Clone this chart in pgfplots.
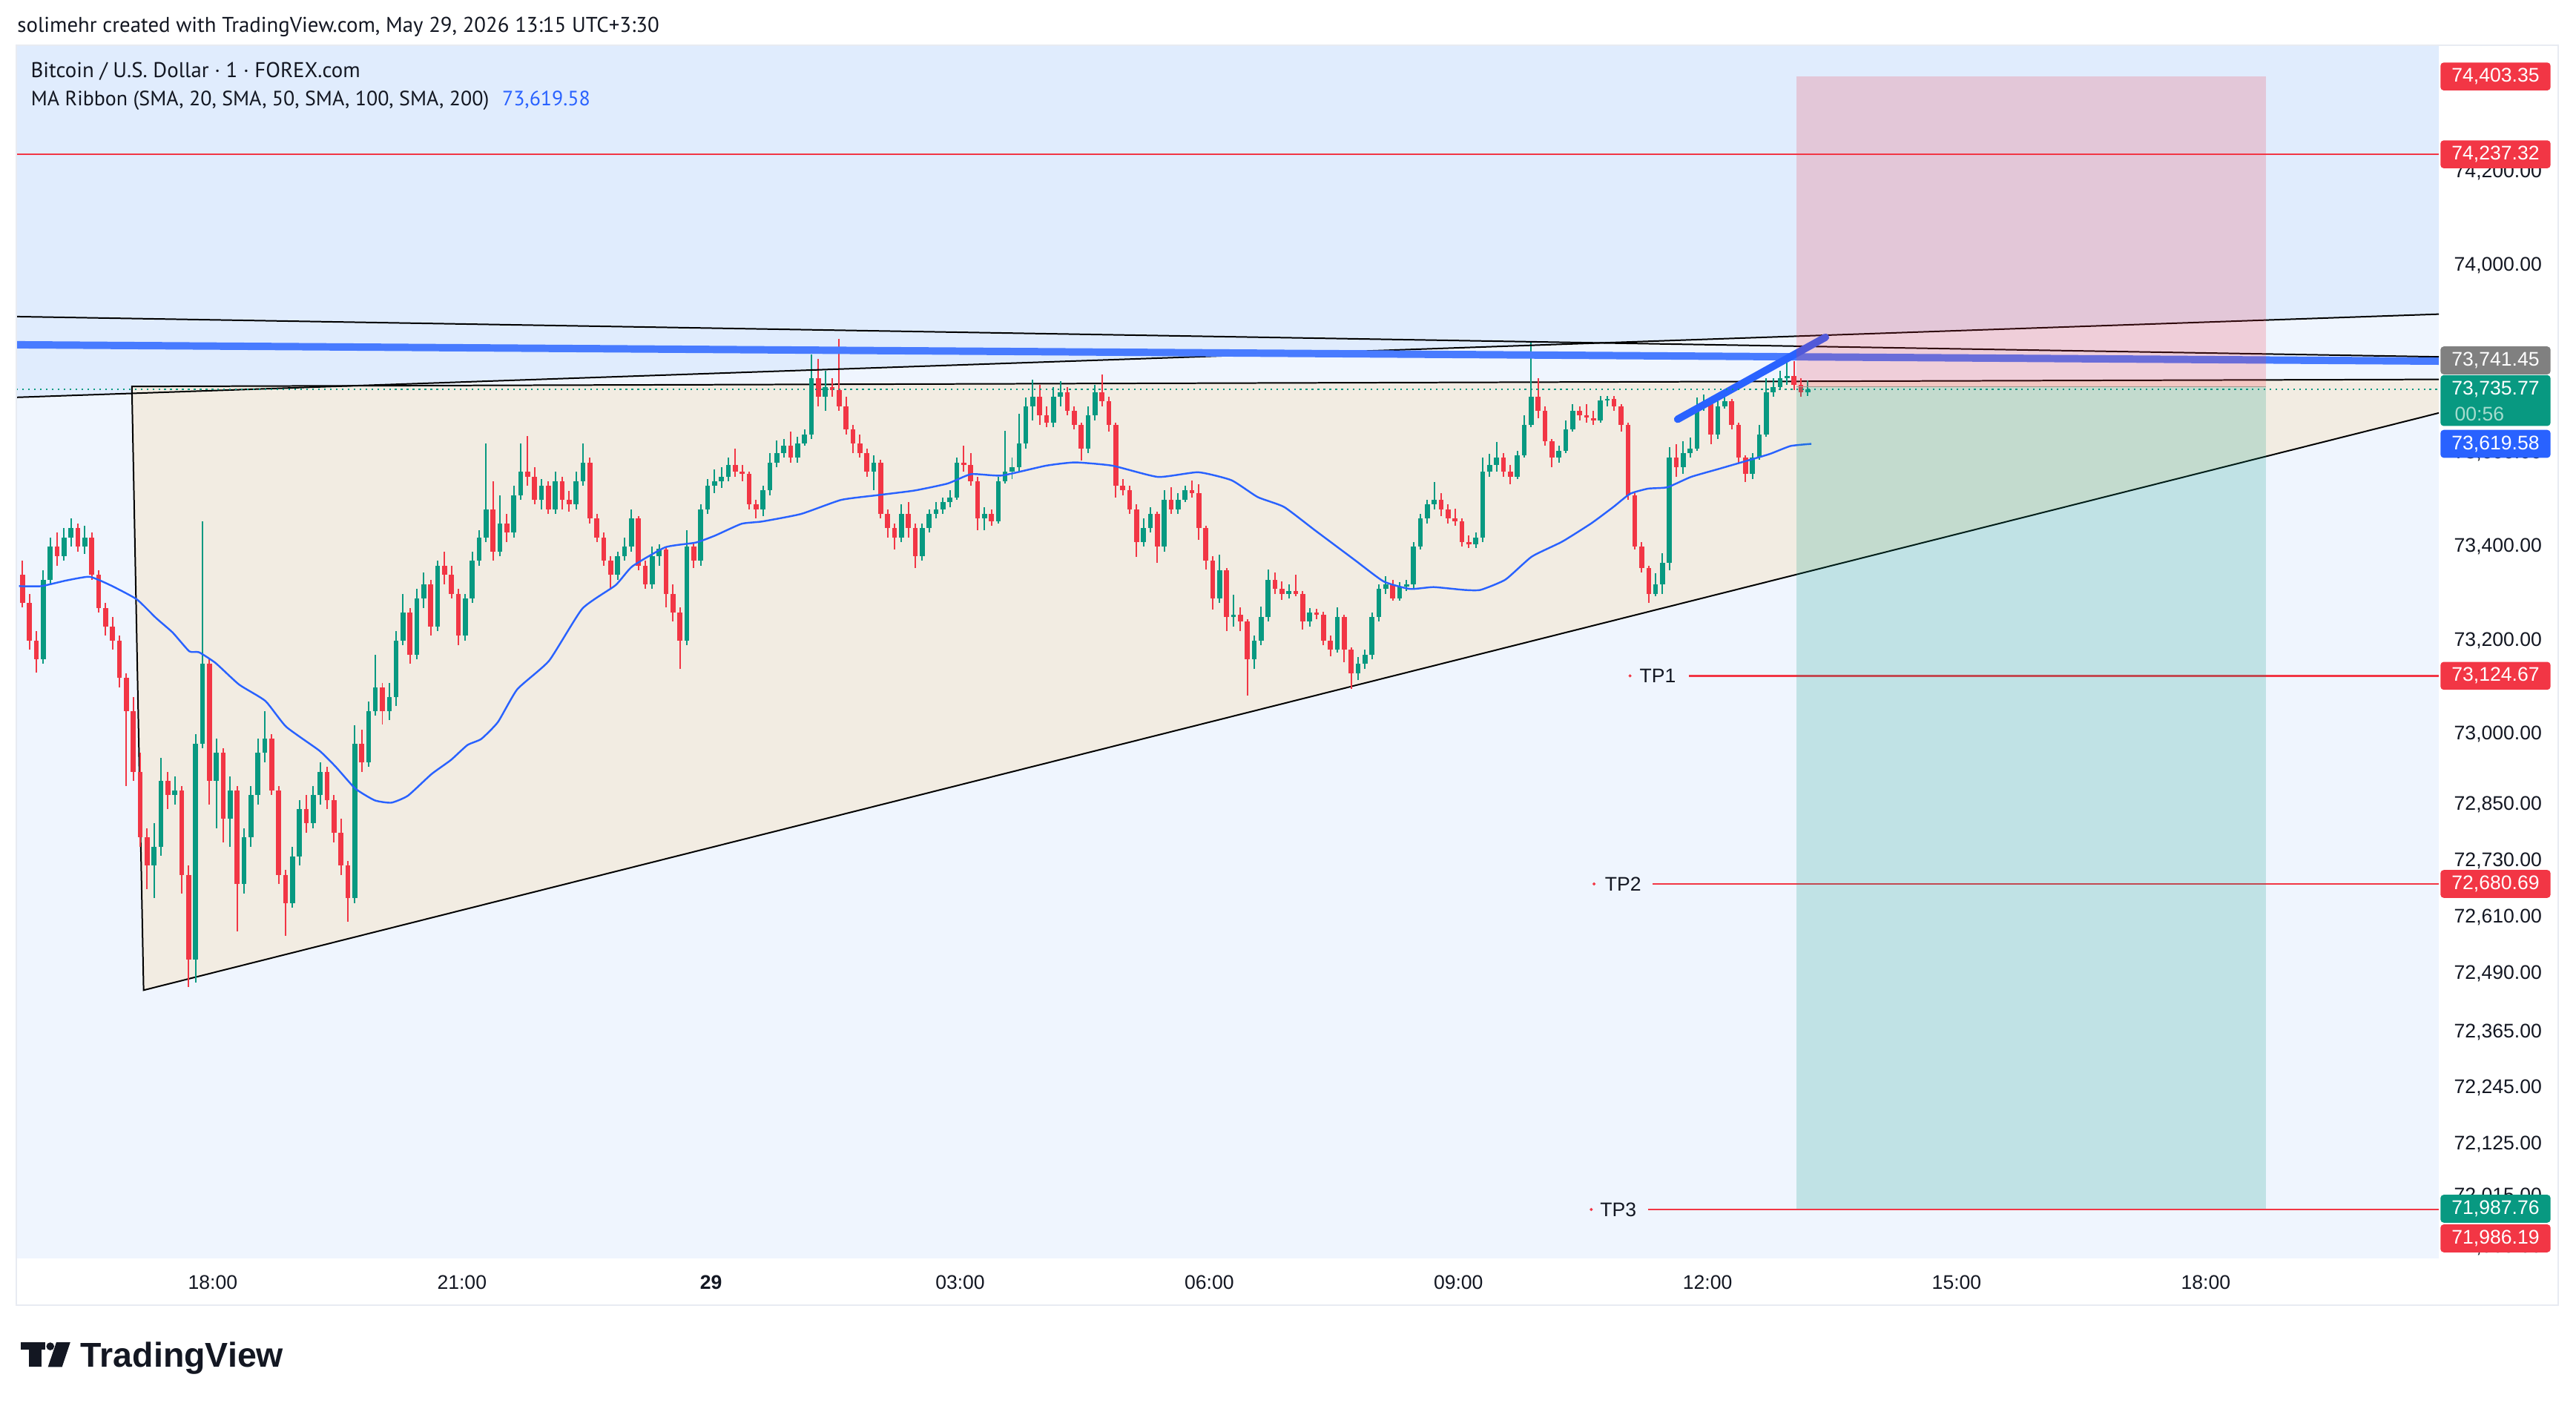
\documentclass[border=0pt]{standalone}
\usepackage{fontspec}
\setmainfont{PT Sans}
\newfontfamily\lib{Liberation Sans}
\usepackage{pgfplots}
\usepackage{pgfplotstable}
\pgfplotsset{compat=1.18}
\definecolor{tvup}{HTML}{089981}
\definecolor{tvdn}{HTML}{F23645}
\definecolor{tvblue}{HTML}{2962FF}
\definecolor{blueline}{RGB}{72,123,255}
\definecolor{bglight}{HTML}{EFF5FE}
\definecolor{bgdark}{HTML}{E0ECFD}
\definecolor{beige}{HTML}{F2ECE2}
\definecolor{tvtext}{HTML}{131722}
\definecolor{frame}{RGB}{232,235,242}
\definecolor{tvgray}{RGB}{128,128,128}
\definecolor{timetxt}{RGB}{165,220,206}

\pgfplotstableread{
t o h l c
-485 73160 73350 73150 73330
-480 73330 73420 73320 73400
-470 73380 73440 73370 73420
-465 73420 73460 73400 73440
-455 73400 73445 73385 73420
-405 72720 72810 72650 72760
-400 72760 72950 72740 72900
-390 72870 72910 72850 72880
-375 72520 73000 72470 72980
-370 72980 73455 72970 73150
-360 72900 72990 72800 72960
-350 72820 72910 72760 72880
-340 72680 72800 72660 72780
-335 72780 72890 72760 72870
-330 72870 72990 72850 72960
-325 72960 73050 72940 72990
-305 72640 72760 72630 72740
-300 72740 72860 72720 72840
-290 72810 72890 72800 72870
-285 72870 72940 72850 72920
-260 72650 73020 72640 72980
-250 72940 73070 72930 73050
-245 73050 73170 73040 73100
-235 73050 73110 73030 73080
-230 73080 73220 73060 73200
-225 73200 73300 73190 73260
-215 73170 73310 73160 73290
-210 73290 73345 73270 73320
-200 73230 73370 73220 73360
-180 73210 73300 73200 73290
-175 73290 73390 73280 73370
-170 73370 73435 73360 73420
-165 73420 73620 73410 73480
-155 73390 73510 73380 73450
-145 73430 73530 73420 73510
-140 73510 73620 73500 73560
-125 73500 73545 73480 73530
-115 73480 73560 73470 73540
-100 73490 73560 73480 73540
-95 73540 73620 73530 73580
-70 73340 73390 73330 73380
-65 73380 73420 73370 73400
-60 73400 73480 73390 73460
-45 73320 73400 73310 73380
-40 73380 73405 73360 73395
-20 73200 73435 73190 73400
-10 73370 73490 73360 73480
-5 73480 73545 73470 73530
0 73530 73565 73515 73540
5 73540 73570 73525 73550
10 73550 73590 73540 73575
35 73480 73530 73465 73520
40 73520 73600 73510 73580
45 73580 73626 73570 73600
50 73600 73630 73590 73615
60 73590 73635 73580 73620
65 73620 73650 73615 73640
70 73640 73810 73630 73760
80 73720 73775 73690 73740
115 73560 73595 73520 73580
135 73420 73490 73410 73470
150 73380 73450 73370 73440
155 73440 73480 73430 73470
160 73470 73495 73460 73480
165 73480 73505 73470 73495
170 73495 73520 73485 73505
175 73505 73590 73500 73580
195 73460 73485 73436 73470
205 73455 73550 73450 73540
210 73540 73647 73535 73560
215 73560 73590 73545 73570
220 73570 73683 73560 73620
225 73620 73718 73610 73700
230 73700 73757 73670 73720
245 73665 73740 73655 73720
250 73720 73753 73700 73730
270 73610 73700 73600 73680
275 73680 73745 73670 73730
310 73410 73460 73400 73440
315 73440 73485 73430 73470
325 73400 73520 73390 73500
335 73480 73515 73470 73500
340 73500 73530 73495 73520
365 73290 73383 73280 73350
375 73250 73298 73230 73255
390 73160 73210 73140 73200
395 73200 73273 73190 73250
400 73250 73351 73240 73330
415 73300 73320 73290 73305
430 73240 73270 73230 73260
450 73180 73270 73175 73250
465 73130 73165 73115 73150
470 73150 73180 73140 73170
475 73170 73260 73160 73250
480 73250 73320 73240 73310
485 73310 73337 73300 73320
495 73290 73325 73285 73315
500 73315 73330 73305 73320
505 73320 73410 73310 73400
510 73400 73470 73395 73460
515 73460 73500 73450 73490
520 73490 73538 73480 73500
550 73405 73430 73397 73420
555 73420 73591 73410 73560
560 73560 73598 73550 73575
565 73575 73623 73560 73590
580 73550 73605 73545 73595
585 73595 73680 73590 73660
590 73660 73835 73655 73720
610 73590 73615 73580 73605
615 73605 73670 73600 73650
620 73650 73704 73645 73690
640 73670 73722 73665 73712
645 73712 73722 73700 73715
680 73300 73344 73295 73320
685 73320 73386 73300 73365
690 73365 73612 73350 73590
700 73570 73625 73556 73600
705 73600 73633 73590 73610
710 73610 73718 73605 73700
715 73700 73725 73690 73705
725 73640 73715 73630 73700
730 73700 73736 73695 73710
750 73555 73600 73545 73590
755 73590 73660 73585 73640
760 73640 73760 73635 73730
765 73730 73760 73720 73740
770 73740 73775 73735 73760
775 73760 73799 73745 73765
790 73730 73755 73722 73735.77
}\upcandles

\pgfplotstableread{
t o h l c
-500 73340 73370 73270 73280
-495 73280 73300 73180 73200
-490 73200 73220 73132 73160
-475 73400 73430 73360 73380
-460 73440 73450 73390 73400
-450 73420 73430 73330 73340
-445 73340 73350 73260 73270
-440 73270 73280 73210 73230
-435 73230 73250 73180 73200
-430 73200 73210 73100 73120
-425 73120 73130 72890 73050
-420 73050 73080 72900 72920
-415 72920 72960 72760 72780
-410 72780 72800 72670 72720
-395 72900 72920 72840 72870
-385 72880 72890 72660 72700
-380 72700 72720 72460 72520
-365 73150 73160 72850 72900
-355 72960 72970 72770 72820
-345 72880 72890 72580 72680
-320 72990 73000 72870 72880
-315 72880 72890 72680 72700
-310 72700 72710 72570 72640
-295 72840 72870 72790 72810
-280 72920 72930 72840 72860
-275 72860 72870 72770 72790
-270 72790 72820 72700 72720
-265 72720 72730 72600 72650
-255 72980 73010 72920 72940
-240 73100 73110 73020 73050
-220 73260 73270 73150 73170
-205 73320 73330 73210 73230
-195 73360 73390 73320 73340
-190 73340 73360 73290 73300
-185 73300 73310 73190 73210
-160 73480 73540 73370 73390
-150 73450 73470 73410 73430
-135 73560 73636 73530 73550
-130 73550 73570 73490 73500
-120 73530 73540 73470 73480
-110 73540 73550 73480 73500
-105 73500 73520 73475 73490
-90 73580 73590 73450 73460
-85 73460 73470 73410 73420
-80 73420 73430 73360 73370
-75 73370 73380 73310 73340
-55 73460 73465 73350 73360
-50 73360 73370 73310 73320
-35 73395 73400 73270 73300
-30 73300 73320 73240 73260
-25 73260 73270 73140 73200
-15 73400 73410 73355 73370
15 73575 73610 73550 73560
20 73560 73575 73540 73555
25 73555 73560 73480 73490
30 73490 73500 73460 73480
55 73615 73646 73580 73590
75 73760 73800 73700 73720
85 73740 73760 73720 73735
90 73735 73843 73690 73700
95 73700 73720 73640 73650
100 73650 73660 73600 73620
105 73620 73640 73590 73600
110 73600 73610 73550 73560
120 73580 73585 73460 73470
125 73470 73480 73420 73440
130 73440 73450 73394 73420
140 73470 73495 73420 73440
145 73440 73450 73354 73380
180 73580 73616 73560 73575
185 73575 73600 73530 73540
190 73540 73550 73436 73460
200 73470 73480 73445 73455
235 73720 73746 73660 73680
240 73680 73700 73655 73665
255 73730 73740 73680 73690
260 73690 73700 73650 73660
265 73660 73665 73584 73610
280 73730 73768 73700 73710
285 73710 73720 73645 73660
290 73660 73665 73505 73530
295 73530 73545 73510 73520
300 73520 73530 73470 73480
305 73480 73490 73379 73410
320 73470 73475 73365 73400
330 73500 73527 73470 73480
345 73520 73542 73505 73515
350 73515 73534 73414 73440
355 73440 73445 73351 73370
360 73370 73380 73266 73290
370 73350 73355 73220 73250
380 73255 73270 73220 73240
385 73240 73245 73082 73160
405 73330 73345 73300 73310
410 73310 73326 73287 73300
420 73305 73340 73294 73300
425 73300 73305 73224 73240
435 73260 73268 73245 73255
440 73255 73262 73190 73200
445 73200 73210 73167 73180
455 73250 73255 73153 73180
460 73180 73185 73097 73130
490 73320 73330 73285 73290
525 73500 73515 73465 73480
530 73480 73490 73450 73460
535 73460 73481 73445 73455
540 73455 73460 73400 73410
545 73410 73425 73397 73405
570 73590 73600 73550 73560
575 73560 73575 73534 73550
595 73720 73760 73675 73690
600 73690 73700 73615 73625
605 73625 73630 73570 73590
625 73690 73700 73670 73680
630 73680 73704 73665 73675
635 73675 73690 73660 73670
650 73715 73722 73690 73700
655 73700 73705 73645 73660
660 73660 73665 73500 73510
665 73510 73515 73395 73400
670 73400 73410 73345 73355
675 73355 73360 73280 73300
695 73590 73619 73550 73570
720 73705 73710 73619 73640
735 73710 73715 73650 73660
740 73660 73665 73580 73590
745 73590 73595 73538 73555
780 73765 73796 73735 73745
785 73745 73760 73720 73730
}\dncandles

\tikzset{
  pbox/.style={minimum width=67pt, minimum height=17pt, inner sep=0pt, rounded corners=2pt, text=white, font=\lib\fontsize{12}{14}\selectfont},
  tplab/.style={font=\lib\fontsize{12}{14}\selectfont, text=tvtext, inner sep=0pt}
}
\pgfplotsset{
  candle/.style={only marks, mark=*, mark size=0pt, mark options={draw=none, fill=none, opacity=0},
    error bars/.cd, y dir=both, y explicit, error mark=none, error bar style={#1}}
}

\begin{document}
\begin{tikzpicture}[x=1pt,y=1pt]
\useasboundingbox (0,0) rectangle (1568,856);
\fill[white] (0,0) rectangle (1568,856);
\begin{axis}[
  at={(10pt,90pt)}, anchor=south west,
  scale only axis, width=1474.5pt, height=738.5pt,
  xmin=-501.9, xmax=1248.4,
  ymin=71882.3, ymax=74470.2,
  axis background/.style={fill=bglight},
  axis line style={draw=none},
  major tick length=0pt, minor tick length=0pt,
  tick style={draw=none},
  scaled y ticks=false,
  xtick={-360,-180,0,180,360,540,720,900,1080},
  xticklabels={18:00,21:00,\textbf{29},03:00,06:00,09:00,12:00,15:00,18:00},
  xticklabel style={font=\lib\fontsize{12}{14}\selectfont, text=tvtext, anchor=center, yshift=-14.6pt},
  ytick={74200,74000,73800,73600,73400,73200,73000,72850,72730,72610,72490,72365,72245,72125,72015,71905},
  yticklabels={{74,200.00},{74,000.00},{73,800.00},{73,600.00},{73,400.00},{73,200.00},{73,000.00},{72,850.00},{72,730.00},{72,610.00},{72,490.00},{72,365.00},{72,245.00},{72,125.00},{72,015.00},{71,905.00}},
  yticklabel pos=right,
  yticklabel style={font=\lib\fontsize{12}{14}\selectfont, text=tvtext, anchor=center, xshift=36pt},
  clip mode=individual,
]
% darker band above the rising line
\addplot[fill=bgdark, draw=none] coordinates {(-501.9,73718.8) (1248.4,73896.3) (1248.4,74600) (-501.9,74600)} -- cycle;
% triangle
\addplot[fill=beige, draw=black, line width=0.9pt] coordinates {(-418.5,73742) (-410,72454) (1346,73758)} -- cycle;
% candles: wicks
\addplot[candle={tvup, line width=0.9pt}]
  table[x expr={\thisrow{t}+2.5}, y expr={0.5*(\thisrow{h}+\thisrow{l})}, y error expr={0.5*(\thisrow{h}-\thisrow{l})}] {\upcandles};
\addplot[candle={tvdn, line width=0.9pt}]
  table[x expr={\thisrow{t}+2.5}, y expr={0.5*(\thisrow{h}+\thisrow{l})}, y error expr={0.5*(\thisrow{h}-\thisrow{l})}] {\dncandles};
% candles: bodies
\addplot[candle={tvup, line width=3pt}]
  table[x expr={\thisrow{t}+2.5}, y expr={0.5*(\thisrow{o}+\thisrow{c})}, y error expr={0.5*abs(\thisrow{c}-\thisrow{o})}] {\upcandles};
\addplot[candle={tvdn, line width=3pt}]
  table[x expr={\thisrow{t}+2.5}, y expr={0.5*(\thisrow{o}+\thisrow{c})}, y error expr={0.5*abs(\thisrow{c}-\thisrow{o})}] {\dncandles};
% MA 200
\addplot[tvblue, line width=1.1pt, smooth, tension=0.3] coordinates {
(-500,73316) (-484,73316) (-466,73328) (-449,73336) (-434,73318) (-415,73288) (-401,73248) (-389,73217)
(-377,73177) (-370,73175) (-358,73152) (-341,73106) (-322,73071) (-307,73016) (-283,72965) (-271,72930)
(-257,72884) (-243,72859) (-231,72854) (-219,72869) (-202,72915) (-188,72945) (-176,72977) (-166,72990)
(-154,73026) (-140,73096) (-117,73157) (-93,73268) (-69,73318) (-57,73358) (-33,73399) (-11,73409)
(3,73424) (22,73449) (37,73454) (65,73470) (94,73500) (120,73510) (147,73520) (171,73535) (188,73555)
(210,73552) (242,73573) (263,73580) (290,73573) (323,73549) (352,73559) (376,73542) (395,73506)
(414,73485) (436,73436) (465,73372) (486,73326) (505,73310) (522,73314) (544,73308) (556,73308)
(574,73330) (593,73379) (615,73411) (636,73450) (652,73485) (664,73513) (677,73524) (691,73527)
(708,73549) (728,73566) (749,73584) (765,73598) (780,73615) (795,73619.58)};
% trend lines
\addplot[black, line width=0.9pt] coordinates {(-501.9,73891.1) (1248.4,73805.2)};
\addplot[black, line width=0.9pt] coordinates {(-501.9,73718.8) (1248.4,73896.3)};
\addplot[blueline, line width=4.5pt] coordinates {(-501.9,73831) (1248.4,73796)};
\addplot[tvblue, line width=4.5pt, line cap=round] coordinates {(698.4,73672) (805.2,73847)};
% levels
\addplot[tvdn, line width=1.2pt] coordinates {(-501.9,74237.32) (1248.4,74237.32)};
\addplot[tvdn, line width=1.3pt] coordinates {(706.5,73124.67) (1248.4,73124.67)};
\addplot[tvdn, line width=1.3pt] coordinates {(680.4,72680.69) (1248.4,72680.69)};
\addplot[tvdn, line width=1.3pt] coordinates {(676.9,71986.19) (1248.4,71986.19)};
\addplot[only marks, mark=*, mark size=0.7pt, tvdn] coordinates {(664,73124.67) (638,72680.69) (636,71986.19)};
% position tool
\addplot[fill=tvdn, fill opacity=0.2, draw=none] coordinates {(784.3,73741.45) (1123.4,73741.45) (1123.4,74403.35) (784.3,74403.35)} -- cycle;
\addplot[fill=tvup, fill opacity=0.2, draw=none] coordinates {(784.3,71987.76) (1123.4,71987.76) (1123.4,73741.45) (784.3,73741.45)} -- cycle;
\addplot[color={rgb,255:red,165;green,150;blue,140}, line width=0.8pt] coordinates {(784.3,73741.45) (1123.4,73741.45)};
% current price
\addplot[tvup, line width=1pt, dash pattern=on 1pt off 2.6pt] coordinates {(-501.9,73735.77) (1248.4,73735.77)};
% TP labels
\node[tplab] at (axis cs:684,73124.67) {TP1};
\node[tplab] at (axis cs:659,72680.69) {TP2};
\node[tplab] at (axis cs:655.5,71986.19) {TP3};
% price boxes
\node[pbox, fill=tvdn] at ([xshift=34.5pt]axis cs:1248.4,74403.35) {74,403.35};
\node[pbox, fill=tvdn] at ([xshift=34.5pt]axis cs:1248.4,74237.32) {74,237.32};
\node[pbox, fill=tvgray] at ([xshift=34.5pt,yshift=16pt]axis cs:1248.4,73741.45) {73,741.45};
\node[pbox, fill=tvup, minimum height=31pt, anchor=north] at ([xshift=34.5pt,yshift=8.9pt]axis cs:1248.4,73735.77) {};
\node[pbox] at ([xshift=34.5pt]axis cs:1248.4,73735.77) {73,735.77};
\node[tplab, text=timetxt, anchor=west] at ([xshift=9.5pt,yshift=-15pt]axis cs:1248.4,73735.77) {00:56};
\node[pbox, fill=tvblue] at ([xshift=34.5pt]axis cs:1248.4,73619.58) {73,619.58};
\node[pbox, fill=tvdn] at ([xshift=34.5pt]axis cs:1248.4,73124.67) {73,124.67};
\node[pbox, fill=tvdn] at ([xshift=34.5pt]axis cs:1248.4,72680.69) {72,680.69};
\node[pbox, fill=tvup] at ([xshift=34.5pt]axis cs:1248.4,71987.76) {71,987.76};
\node[pbox, fill=tvdn] at ([xshift=34.5pt,yshift=-17.6pt]axis cs:1248.4,71986.19) {71,986.19};
\end{axis}
% frame
\draw[frame, line width=1pt] (10,61.5) rectangle (1557,828.5);
% header texts
\node[anchor=base west, inner sep=0pt, text=tvtext, font=\fontsize{13}{15}\selectfont] at (10.4,836.4) {solimehr created with TradingView.com, May 29, 2026 13:15 UTC+3:30};
\node[anchor=base west, inner sep=0pt, text=tvtext, font=\fontsize{13}{15}\selectfont] at (18.6,808.6) {Bitcoin / U.S. Dollar · 1 · FOREX.com};
\node[anchor=base west, inner sep=0pt, text=tvtext, font=\fontsize{12.6}{15}\selectfont] at (18.7,791.6) {MA Ribbon (SMA, 20, SMA, 50, SMA, 100, SMA, 200)\hspace{8pt}\textcolor{tvblue}{73,619.58}};
% logo
\fill[tvtext] (12.6,38.8) rectangle (27.7,34.5);
\fill[tvtext] (17.6,38.8) rectangle (25.2,23.8);
\fill[tvtext] (30.6,36.3) circle (2.4);
\fill[tvtext] (34.3,38.8) -- (42.8,38.8) -- (37.8,23.8) -- (29.2,23.8) -- cycle;
\node[anchor=base west, inner sep=0pt, text=tvtext, font=\lib\bfseries\fontsize{21}{24}\selectfont] at (49,23.8) {TradingView};
\end{tikzpicture}
\end{document}
